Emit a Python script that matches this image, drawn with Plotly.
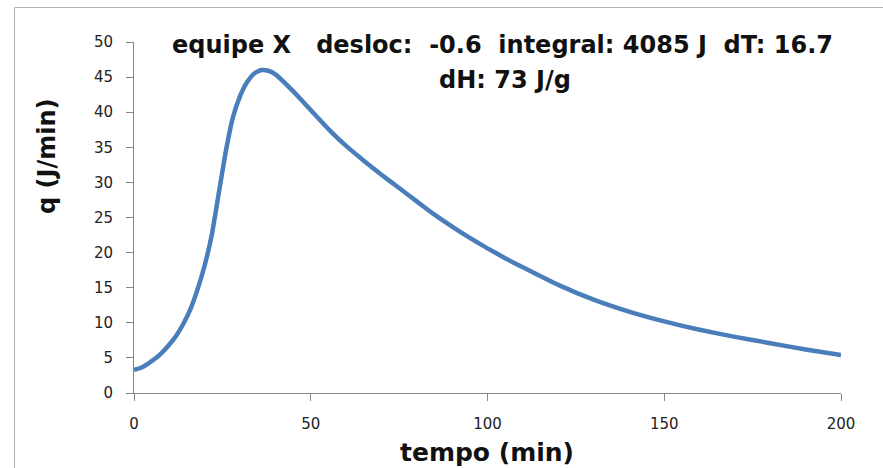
import plotly.graph_objects as go

tempo = [0, 2, 4, 6, 8, 10, 12, 14, 16, 18, 20, 22, 24, 26, 28, 30, 32, 34, 36, 38, 40,
         45, 50, 55, 60, 65, 70, 75, 80, 85, 90, 95, 100, 105, 110, 120, 130, 140, 150, 160, 170, 180, 190, 200]
q = [3.3, 3.6, 4.2, 4.9, 5.8, 6.9, 8.2, 9.9, 12.0, 14.8, 18.2, 22.5, 28.5, 34.5, 39.3, 42.3, 44.3, 45.5, 46.0, 45.9, 45.4,
     43.0, 40.3, 37.6, 35.2, 33.1, 31.1, 29.2, 27.3, 25.4, 23.7, 22.1, 20.6, 19.2, 17.9, 15.4, 13.3, 11.6, 10.2, 9.0, 8.0, 7.1, 6.2, 5.4]

title_line1 = "equipe X &nbsp; desloc: &nbsp;-0.6 &nbsp;integral: 4085 J &nbsp;dT: 16.7"
title_line2 = "dH: 73 J/g"
x_title = "tempo (min)"
y_title = "q (J/min)"

PL, PR, PT, PB = 134, 841, 42, 393
def px_x(p):
    return (p - PL) / (PR - PL)
def px_y(p):
    return (PB - p) / (PB - PT)

TFONT = dict(family="DejaVu Sans", size=24, color="#111")

fig = go.Figure()
fig.add_trace(go.Scatter(x=tempo, y=q, mode="lines", line=dict(color="#4a7ebb", width=4.5, shape="spline", smoothing=0.5),
                         showlegend=False))

axis_common = dict(showgrid=False, zeroline=False, showline=True, linecolor="#868686", linewidth=1,
                   ticks="outside", ticklen=7, tickcolor="#868686", ticklabelstandoff=10,
                   tickfont=dict(family="DejaVu Sans", size=15, color="#222"))

annotations = [
    dict(text="<b>%s</b>" % title_line1, xref="paper", yref="paper", x=px_x(502), y=px_y(45),
         xanchor="center", yanchor="middle", showarrow=False, font=TFONT),
    dict(text="<b>%s</b>" % title_line2, xref="paper", yref="paper", x=px_x(505), y=px_y(80),
         xanchor="center", yanchor="middle", showarrow=False, font=TFONT),
    dict(text="<b>%s</b>" % y_title, xref="paper", yref="paper", x=px_x(47), y=px_y(156),
         xanchor="center", yanchor="middle", showarrow=False, textangle=-90,
         font=dict(family="DejaVu Sans", size=24, color="#111")),
    dict(text="<b>%s</b>" % x_title, xref="paper", yref="paper", x=px_x(487), y=px_y(452),
         xanchor="center", yanchor="middle", showarrow=False,
         font=dict(family="DejaVu Sans", size=25, color="#111")),
]

fig.update_layout(
    width=883, height=468,
    margin=dict(l=PL, r=883 - PR, t=PT, b=468 - PB),
    paper_bgcolor="white", plot_bgcolor="white",
    xaxis=dict(range=[0, 200], tickvals=[0, 50, 100, 150, 200], **axis_common),
    yaxis=dict(range=[0, 50], tickvals=[0, 5, 10, 15, 20, 25, 30, 35, 40, 45, 50], **axis_common),
    annotations=annotations,
    shapes=[dict(type="rect", xref="paper", yref="paper", x0=px_x(14.5), y0=px_y(520), x1=px_x(940), y1=px_y(7.5),
                 line=dict(color="#b0b0b0", width=1), layer="below")],
)

fig.write_html("out.html")
